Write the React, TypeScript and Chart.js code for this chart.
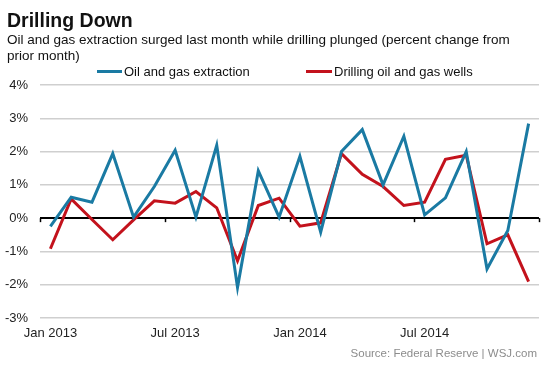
import React, { useEffect, useRef } from "react";
import { Chart, registerables } from "chart.js";

Chart.register(...registerables);

const months = [
  "Jan 2013", "Feb 2013", "Mar 2013", "Apr 2013", "May 2013", "Jun 2013",
  "Jul 2013", "Aug 2013", "Sep 2013", "Oct 2013", "Nov 2013", "Dec 2013",
  "Jan 2014", "Feb 2014", "Mar 2014", "Apr 2014", "May 2014", "Jun 2014",
  "Jul 2014", "Aug 2014", "Sep 2014", "Oct 2014", "Nov 2014", "Dec 2014",
];

const oilGasExtraction = [
  -0.25, 0.63, 0.48, 1.94, 0.03, 0.95, 2.04, 0.03, 2.19, -2.08, 1.42, 0.03,
  1.86, -0.42, 2.0, 2.66, 1.0, 2.46, 0.1, 0.61, 2.0, -1.53, -0.37, 2.84,
];

const drillingWells = [
  -0.92, 0.58, -0.04, -0.65, -0.05, 0.52, 0.45, 0.8, 0.31, -1.28, 0.38, 0.6,
  -0.24, -0.14, 1.94, 1.32, 0.95, 0.38, 0.48, 1.77, 1.89, -0.77, -0.5, -1.91,
];

const xTickLabels = ["Jan 2013", "Jul 2013", "Jan 2014", "Jul 2014"];
const yMin = -3;
const yMax = 4;

const BLUE = "#1a7aa3";
const RED = "#c3121c";
const FONT = '"Liberation Sans", Arial, Helvetica, sans-serif';

const zeroTicksPlugin = {
  id: "zeroTicks",
  beforeDatasetsDraw(chart: any) {
    const xs = chart.scales.x;
    const ys = chart.scales.y;
    const y0 = ys.getPixelForValue(0);
    const ctx = chart.ctx;
    ctx.save();
    ctx.strokeStyle = "#000";
    ctx.lineWidth = 1.5;
    for (let m = 0; m <= months.length; m += 6) {
      const x = Math.round(xs.getPixelForValue(m)) + 0.5;
      ctx.beginPath();
      ctx.moveTo(x, y0);
      ctx.lineTo(x, y0 + 4);
      ctx.stroke();
    }
    ctx.restore();
  },
};

export default function App() {
  const canvasRef = useRef<HTMLCanvasElement | null>(null);

  useEffect(() => {
    if (!canvasRef.current) return;
    const toPoints = (arr: number[]) => arr.map((v, i) => ({ x: i + 0.5, y: v }));
    const chart = new Chart(canvasRef.current, {
      type: "line",
      data: {
        datasets: [
          {
            label: "Oil and gas extraction",
            data: toPoints(oilGasExtraction),
            borderColor: BLUE,
            borderWidth: 3,
            pointRadius: 0,
            tension: 0,
            fill: false,
            borderJoinStyle: "miter",
          },
          {
            label: "Drilling oil and gas wells",
            data: toPoints(drillingWells),
            borderColor: RED,
            borderWidth: 3,
            pointRadius: 0,
            tension: 0,
            fill: false,
            borderJoinStyle: "miter",
          },
        ],
      },
      options: {
        responsive: false,
        animation: false,
        layout: { padding: { top: 85, right: 14, bottom: 0, left: 0 } },
        plugins: {
          legend: { display: false },
          title: { display: false },
          tooltip: { enabled: false },
        },
        scales: {
          x: {
            type: "linear",
            min: 0,
            max: months.length,
            grid: { display: false, drawTicks: false },
            border: { display: false },
            afterBuildTicks: (scale: any) => {
              scale.ticks = xTickLabels.map((l) => ({ value: months.indexOf(l) + 0.5 }));
            },
            afterFit: (scale: any) => {
              scale.height = 51;
            },
            ticks: {
              padding: 8,
              maxRotation: 0,
              autoSkip: false,
              color: "#222",
              font: { family: FONT, size: 13 },
              callback: (v: any) => months[Math.floor(Number(v))],
            },
          },
          y: {
            min: yMin,
            max: yMax,
            grid: {
              drawTicks: false,
              color: (ctx: any) => (ctx.tick && ctx.tick.value === 0 ? "#000" : "#cfcfcf"),
              lineWidth: (ctx: any) => (ctx.tick && ctx.tick.value === 0 ? 2 : 1.5),
            },
            border: { display: false },
            afterFit: (scale: any) => {
              scale.width = 40;
            },
            ticks: {
              stepSize: 1,
              padding: 12,
              color: "#222",
              font: { family: FONT, size: 13 },
              callback: (v: any) => `${v}%`,
            },
          },
        },
      },
      plugins: [zeroTicksPlugin],
    } as any);
    return () => chart.destroy();
  }, []);

  const abs = (o: React.CSSProperties): React.CSSProperties => ({ position: "absolute", ...o });

  return (
    <div style={{ position: "absolute", left: 0, top: 0, width: 553, height: 369, background: "#fff", fontFamily: FONT, overflow: "hidden" }}>
      <canvas ref={canvasRef} width={553} height={369} style={abs({ left: 0, top: 0 })} />
      <div style={abs({ left: 7, top: 10, fontSize: 19.5, lineHeight: "20px", fontWeight: "bold", color: "#111", whiteSpace: "nowrap" })}>
        Drilling Down
      </div>
      <div style={abs({ left: 7, top: 32, fontSize: 13.5, lineHeight: "16px", color: "#111", whiteSpace: "nowrap" })}>
        Oil and gas extraction surged last month while drilling plunged (percent change from
        <br />
        prior month)
      </div>
      <div style={abs({ left: 97, top: 70, width: 25, height: 3, background: BLUE })} />
      <div style={abs({ left: 124, top: 64, fontSize: 13, lineHeight: "15px", color: "#111", whiteSpace: "nowrap" })}>
        Oil and gas extraction
      </div>
      <div style={abs({ left: 306, top: 70, width: 26, height: 3, background: RED })} />
      <div style={abs({ left: 334, top: 64, fontSize: 13, lineHeight: "15px", color: "#111", whiteSpace: "nowrap" })}>
        Drilling oil and gas wells
      </div>
      <div style={abs({ right: 16, top: 346, fontSize: 11.5, lineHeight: "14px", color: "#8c8c8c", whiteSpace: "nowrap" })}>
        Source: Federal Reserve | WSJ.com
      </div>
    </div>
  );
}
